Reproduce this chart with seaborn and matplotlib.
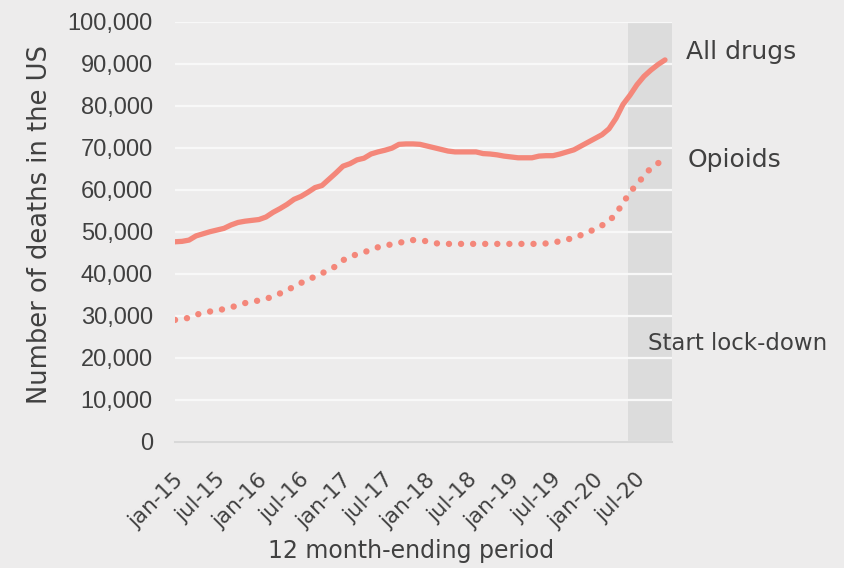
import numpy as np
import pandas as pd
import matplotlib
matplotlib.use("Agg")
import matplotlib.pyplot as plt
import matplotlib.transforms as mtransforms
from matplotlib.transforms import Bbox
import seaborn as sns

# ---- data ----
months = pd.date_range("2015-01-01", periods=71, freq="MS")
all_drugs = [47600, 47700, 48000, 49000, 49500, 50000, 50400, 50800, 51600, 52200,
             52500, 52700, 52900, 53500, 54600, 55500, 56500, 57700, 58400, 59400,
             60500, 61000, 62500, 64000, 65600, 66200, 67100, 67500, 68500, 69000,
             69400, 69900, 70800, 70900, 70900, 70800, 70400, 70000, 69600, 69200,
             69000, 69000, 69000, 69000, 68600, 68500, 68300, 68000, 67800, 67600,
             67600, 67600, 68000, 68100, 68100, 68500, 69000, 69500, 70400, 71300,
             72200, 73100, 74500, 77000, 80300, 82500, 85000, 87000, 88500, 89800,
             90900]
opioids = [29000, 29200, 29500, 30200, 30700, 31000, 31200, 31600, 32000, 32450,
           33000, 33400, 33600, 34000, 34600, 35300, 36100, 36900, 37800, 38600,
           39300, 40100, 40900, 41800, 43200, 44100, 44600, 45100, 45700, 46300,
           46800, 46950, 47300, 47800, 48000, 48000, 47700, 47300, 47100, 47100,
           47100, 47100, 47100, 47100, 47100, 47100, 47100, 47100, 47100, 47100,
           47100, 47100, 47100, 47200, 47300, 47800, 48200, 48400, 49200, 49900,
           50600, 51500, 52500, 54300, 56800, 59400, 61300, 63300, 65200, 66300,
           67200]
tick_labels = ["jan-15", "jul-15", "jan-16", "jul-16", "jan-17", "jul-17",
               "jan-18", "jul-18", "jan-19", "jul-19", "jan-20", "jul-20"]
yticks = list(range(0, 100001, 10000))
lockdown_start, lockdown_end = 64.7, 71.0

df = pd.DataFrame({"idx": np.arange(len(months)), "All drugs": all_drugs, "Opioids": opioids})

sns.set_theme(style="white")
plt.rcParams["font.family"] = ["DejaVu Sans"]

BG = "#EDECEC"
TXT = "#404040"
LINE = "#F4877A"

fig = plt.figure(figsize=(8.44, 5.68), dpi=100, facecolor=BG)
ax = fig.add_axes([175/844, 1-441.7/568, 497/844, 420/568])
ax.set_facecolor("none")

ax.axvspan(lockdown_start, lockdown_end, color="#DBDBDB", alpha=0.9, lw=0, zorder=0)

for y in yticks:
    ax.axhline(y, color="#F8F8F8", lw=1.6, zorder=1)

sns.lineplot(data=df, x="idx", y="All drugs", ax=ax, color=LINE, lw=3.8,
             solid_capstyle="round", zorder=3)
sns.lineplot(data=df, x="idx", y="Opioids", ax=ax, color=LINE, lw=4.6,
             zorder=3)
ax.lines[-1].set_linestyle((0, (0.01, 1.88)))
ax.lines[-1].set_dash_capstyle("round")

ax.set_xlim(0, 71)
ax.set_ylim(0, 100000)
ax.set_yticks(yticks)
ax.set_yticklabels([f"{v:,}" for v in yticks], fontsize=17, color=TXT,
                   family="Liberation Sans")
ax.tick_params(axis="y", length=0, pad=16)

ax.set_xticks(np.arange(0, 67, 6))
ax.set_xticklabels(tick_labels, fontsize=15.5, color=TXT, rotation=45,
                   ha="right", va="top", rotation_mode="anchor")
ax.tick_params(axis="x", length=8, width=1.2, color="#D8D8D8", pad=4)
offset = mtransforms.ScaledTranslation(-2/100, -11/100, fig.dpi_scale_trans)
for lbl in ax.get_xticklabels():
    lbl.set_transform(lbl.get_transform() + offset)

for s in ["top", "right", "left"]:
    ax.spines[s].set_visible(False)
ax.spines["bottom"].set_color("#D8D8D8")
ax.spines["bottom"].set_linewidth(1.5)
ax.grid(False)

ax.set_ylabel("Number of deaths in the US", fontsize=18.5, color=TXT)
ax.yaxis.set_label_coords(-0.245, 0.516)
ax.set_xlabel("12 month-ending period", fontsize=17, color=TXT)
ax.xaxis.set_label_coords(0.475, -0.232)

fig.text(686/844, 1-52/568, "All drugs", fontsize=18, color=TXT, va="center", ha="left")
fig.text(688/844, 1-160/568, "Opioids", fontsize=18, color=TXT, va="center", ha="left")
t = fig.text(648/844, 1-343/568, "Start lock-downs", fontsize=16.5, color=TXT,
             va="center", ha="left")
t.set_clip_box(Bbox.from_extents(0, 0, 828, 568))
t.set_clip_on(True)

fig.savefig("out.png", dpi=100, facecolor=BG)
